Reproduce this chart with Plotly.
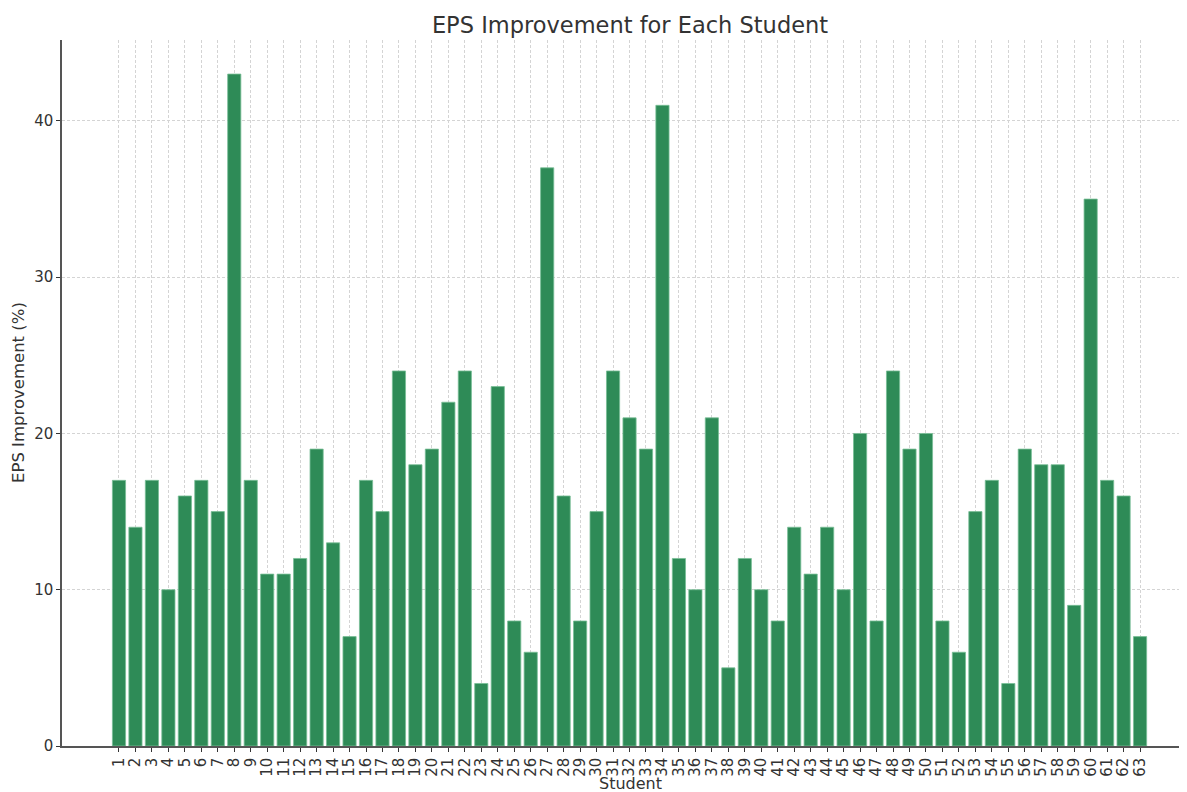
import plotly.graph_objects as go

students = list(range(1, 64))
improvement = [17, 14, 17, 10, 16, 17, 15, 43, 17, 11, 11, 12, 19, 13, 7, 17, 15, 24, 18, 19,
               22, 24, 4, 23, 8, 6, 37, 16, 8, 15, 24, 21, 19, 41, 12, 10, 21, 5, 12, 10,
               8, 14, 11, 14, 10, 20, 8, 24, 19, 20, 8, 6, 15, 17, 4, 19, 18, 18, 9, 35,
               17, 16, 7]
tick_labels = [str(s) for s in students]

font_family = "DejaVu Sans"
text_color = "#333333"
OFF = 8  # default page body margin

fig = go.Figure()
fig.add_trace(go.Bar(
    x=students, y=improvement, width=0.8,
    marker=dict(color="#2e8b57", line=dict(color="rgba(120,190,150,0.8)", width=1)),
))

W, H = 1187 - OFF, 792 - OFF
fig.update_layout(
    width=W, height=H,
    margin=dict(l=62 - OFF, r=0, t=40 - OFF, b=46, autoexpand=False),
    plot_bgcolor="white", paper_bgcolor="white",
    showlegend=False,
    font=dict(family=font_family, color=text_color, size=15),
    title=dict(text="EPS Improvement for Each Student", x=(630 - OFF) / W, xanchor="center",
               y=1 - (25 - OFF) / H, yanchor="middle", font=dict(size=22.5, color=text_color)),
    xaxis=dict(
        range=[-2.46, 65.85], tickmode="array", tickvals=students, ticktext=tick_labels,
        tickangle=-90, ticks="outside", ticklen=4, tickcolor="#333", tickwidth=1,
        showline=True, linecolor="#555", linewidth=1.5,
        showgrid=True, gridcolor="#d4d4d4", griddash="3px,2px", gridwidth=0.8,
        tickfont=dict(size=15, color=text_color), zeroline=False,
    ),
    yaxis=dict(
        range=[0, 45.18], tickvals=[0, 10, 20, 30, 40], ticks="outside", ticklen=4,
        tickcolor="#333", tickwidth=1, showline=True, linecolor="#555", linewidth=1.5,
        showgrid=True, gridcolor="#d4d4d4", griddash="3px,2px", gridwidth=0.8,
        tickfont=dict(size=15, color=text_color), zeroline=False,
    ),
    annotations=[
        dict(text="Student", xref="paper", yref="paper", x=(630 - 62) / (1187 - 62), y=0,
             yshift=-37, showarrow=False, font=dict(size=16, color=text_color),
             xanchor="center", yanchor="middle"),
        dict(text="EPS Improvement (%)", xref="paper", yref="paper", x=0, xshift=-44,
             y=0.5, textangle=-90, showarrow=False, font=dict(size=16.5, color=text_color),
             xanchor="center", yanchor="middle"),
    ],
)

fig.write_html("out.html")
